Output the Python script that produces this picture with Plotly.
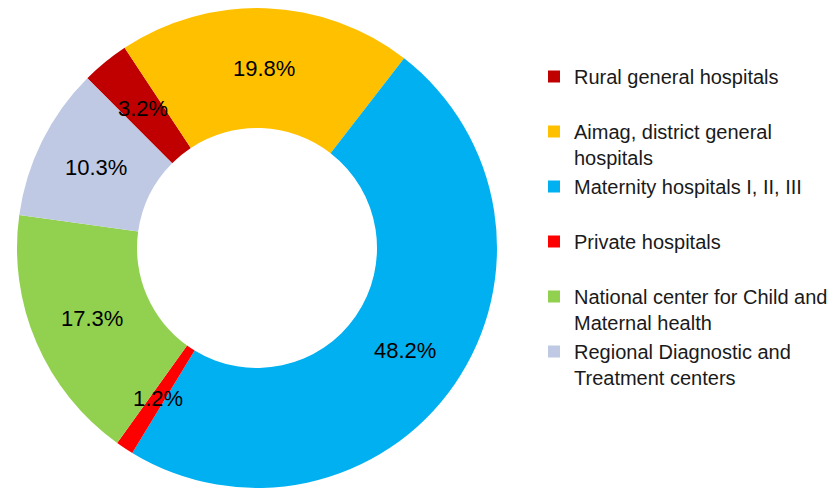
import numpy as np
import plotly.graph_objects as go

labels = [
    "Rural general hospitals<br> ",
    "Aimag, district general<br>hospitals",
    "Maternity hospitals I, II, III<br> ",
    "Private hospitals<br> ",
    "National center for Child and<br>Maternal health",
    "Regional Diagnostic and<br>Treatment centers",
]
values = [3.2, 19.8, 48.2, 1.2, 17.3, 10.3]
colors = ["#C00000", "#FFC000", "#00B0F0", "#FF0000", "#92D050", "#BFC9E3"]

W, H = 830, 488
cx, cy, R = 257, 248, 240
rotation = -45
hole = 0.5

fig = go.Figure(go.Pie(
    labels=labels, values=values, sort=False, direction="clockwise",
    rotation=rotation, hole=hole, textinfo="none",
    marker=dict(colors=colors, line=dict(width=0)),
    domain=dict(x=[(cx - R) / W, (cx + R) / W],
                y=[1 - (cy + R) / H, 1 - (cy - R) / H]),
))

# percentage labels at mid-ring, derived from data
vals = np.array(values, dtype=float)
tot = vals.sum()
starts = rotation + 360 * (np.cumsum(vals) - vals) / tot
mids = np.radians(starts + 180 * vals / tot)
r = R * (1 + hole) / 2
annotations = []
for v, m in zip(values, mids):
    px = cx + r * np.sin(m)
    py = cy - r * np.cos(m)
    annotations.append(dict(
        x=px / W, y=1 - py / H, xref="paper", yref="paper",
        xanchor="center", yanchor="middle",
        text=f"{v:.1f}%", showarrow=False,
        font=dict(family="Liberation Sans, Arial", size=22, color="#000000"),
    ))

fig.update_layout(
    width=W, height=H,
    margin=dict(l=0, r=0, t=0, b=0, autoexpand=False),
    paper_bgcolor="white", plot_bgcolor="white",
    showlegend=True,
    legend=dict(
        x=534 / W, y=1 - 57 / H, xanchor="left", yanchor="top",
        valign="top", traceorder="normal",
        font=dict(family="Liberation Sans, Arial", size=20, color="#1a1a1a"),
        bgcolor="rgba(0,0,0,0)",
    ),
    annotations=annotations,
)

fig.write_html("out.html", config={"displayModeBar": False},
               post_script="document.body.style.margin='0';")
